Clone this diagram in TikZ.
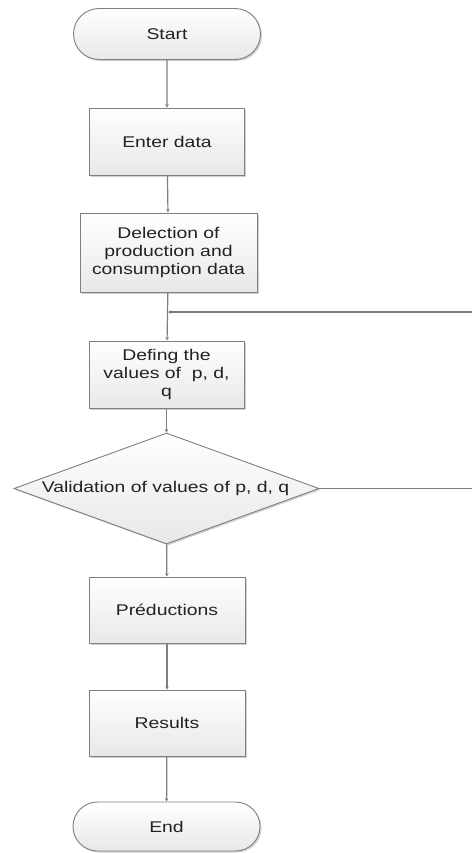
\documentclass[tikz,border=0pt]{standalone}
\usepackage{fontspec}
\setmainfont[FakeStretch=1.25]{Liberation Sans}
\usetikzlibrary{shapes.misc,shapes.geometric,shadows,arrows.meta}
\definecolor{edge}{HTML}{7F7F7F}
\definecolor{ink}{HTML}{222222}
\tikzset{
  base/.style={draw=edge, line width=0.9bp, top color=white, bottom color=black!9,
    drop shadow={shadow xshift=1.5bp, shadow yshift=-1.5bp, fill=black, opacity=0.18},
    text=ink, font=\fontsize{15.5bp}{18bp}\selectfont, align=center, inner sep=0pt},
  term/.style={base, rounded rectangle, minimum width=187bp, minimum height=51bp},
  procbox/.style={base, rectangle, minimum width=155bp, minimum height=67bp},
  decision/.style={base, diamond, minimum width=305bp, minimum height=111bp},
  conn/.style={draw=edge, line width=1.2bp, -{Stealth[length=3.5bp,width=3.5bp]}},
}
\begin{document}
\begin{tikzpicture}[x=1bp,y=-1bp]
\useasboundingbox (0,0) rectangle (472,853);
\node[term] (start) at (167,34) {Start};
\node[procbox] (enter) at (167,141.5) {Enter data};
\node[procbox, minimum width=177bp, minimum height=79bp] (delect) at (168.5,252.5) {Delection of\\production and\\consumption data};
\node[procbox] (defing) at (166.5,374.5) {Defing the\\values of~~p, d,\\q};
\node[decision] (valid) at (166.5,488.5) {};
\node[text=ink, font=\fontsize{15.5bp}{18bp}\selectfont, inner sep=0pt] (validtext) at (165.5,488) {Validation of values of p, d, q};
\node[procbox, minimum width=156bp, minimum height=66bp] (pred) at (167,610) {Préductions};
\node[procbox, minimum width=156bp, minimum height=66bp] (res) at (167,723) {Results};
\node[term, minimum height=49bp] (fin) at (166.5,826.5) {End};
\coordinate (loopa) at (476,488.5);
\coordinate (loopb) at (476,312);
\coordinate (loopc) at (168,312);
\draw[conn] (start) -- (enter);
\draw[conn] (enter) -- (delect);
\draw[conn] (delect) -- (defing);
\draw[conn] (defing) -- (valid);
\draw[conn] (valid) -- (pred);
\draw[conn] (pred) -- (res);
\draw[conn] (res) -- (fin);
\draw[conn] (valid.east) -- (loopa) -- (loopb) -- (loopc);
\end{tikzpicture}
\end{document}
